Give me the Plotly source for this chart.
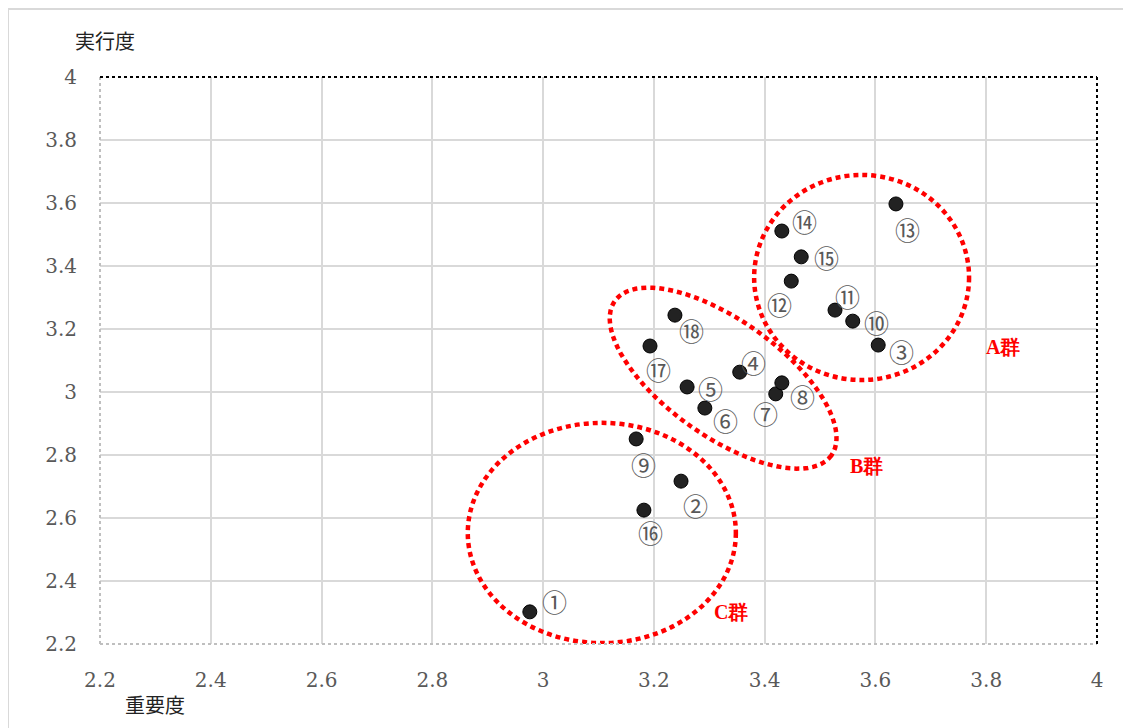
import numpy as np
import plotly.graph_objects as go

# ---- data ----
labels = ["①", "②", "③", "④", "⑤", "⑥", "⑦", "⑧", "⑨", "⑩", "⑪", "⑫", "⑬", "⑭", "⑮", "⑯", "⑰", "⑱"]
importance = [2.976, 3.249, 3.605, 3.355, 3.260, 3.292, 3.420, 3.431, 3.168, 3.559, 3.527, 3.448, 3.637, 3.431, 3.466, 3.182, 3.193, 3.238]
performance = [2.302, 2.717, 3.149, 3.063, 3.016, 2.949, 2.994, 3.029, 2.851, 3.225, 3.260, 3.352, 3.597, 3.511, 3.429, 2.625, 3.146, 3.244]
# label offsets in pixels (dx right, dy down)
label_dx = [25, 14, 23, 14, 23, 21, -10, 21, 7, 24, 12, -12, 12, 23, 25, 7, 8, 17]
label_dy = [-11, 24, 6, -10, 1, 12, 19, 13, 25, 1, -14, 23, 25, -10, 0, 22, 23, 15]

group_names = ["A群", "B群", "C群"]
group_x = [3.830, 3.583, 3.339]
group_y = [3.143, 2.765, 2.302]

xticks = [2.2, 2.4, 2.6, 2.8, 3.0, 3.2, 3.4, 3.6, 3.8, 4.0]
xtick_text = ["2.2", "2.4", "2.6", "2.8", "3", "3.2", "3.4", "3.6", "3.8", "4"]
yticks = xticks
ytick_text = xtick_text

W, H = 1131, 728
L, R, T, B = 92, 42, 69, 92
X0, X1, Y0, Y1 = 2.2, 4.0, 2.2, 4.0
PW, PH = W - L - R, H - T - B
sx = PW / (X1 - X0)
sy = PH / (Y1 - Y0)

SERIF = "DejaVu Serif"
BOLD_SERIF = "Liberation Serif, DejaVu Serif, serif"
CJK = "Noto Sans CJK JP"
GREY = "#595959"

fig = go.Figure()
fig.add_trace(go.Scatter(
    x=importance, y=performance, mode="markers",
    marker=dict(size=14, color="#222222", line=dict(color="#000000", width=1)),
    hoverinfo="skip", showlegend=False))

annotations = []
for lab, x, y, dx, dy in zip(labels, importance, performance, label_dx, label_dy):
    annotations.append(dict(x=x, y=y, text=lab, showarrow=False, xshift=dx, yshift=-dy,
                            font=dict(family=CJK, size=25, color=GREY)))
for g, x, y in zip(group_names, group_x, group_y):
    annotations.append(dict(x=x, y=y, text="<b>" + g + "</b>", showarrow=False,
                            font=dict(family=BOLD_SERIF, size=20, color="#ff0000")))
annotations.append(dict(xref="paper", yref="paper", x=0.005, y=1.0, yshift=37, xanchor="center",
                        yanchor="middle", text="実行度", showarrow=False,
                        font=dict(family=CJK, size=20, color="#222222")))
annotations.append(dict(xref="paper", yref="paper", x=0.055, y=0.0, yshift=-60, xanchor="center",
                        yanchor="middle", text="重要度", showarrow=False,
                        font=dict(family=CJK, size=20, color="#222222")))

red_line = dict(color="#ff0000", width=4.5, dash="5px,4px")
shapes = []
# outer chart border
shapes.append(dict(type="rect", xref="paper", yref="paper",
                   x0=(0 - L) / PW, x1=(W + 5 - L) / PW,
                   y0=(PH + T - (H + 5)) / PH, y1=(PH + T - 1) / PH,
                   line=dict(color="#d9d9d9", width=2), layer="below"))
# ellipse A and C (axis aligned)
shapes.append(dict(type="circle", xref="x", yref="y", x0=3.381, x1=3.769, y0=3.038, y1=3.689, line=red_line))
shapes.append(dict(type="circle", xref="x", yref="y", x0=2.864, x1=3.348, y0=2.203, y1=2.902, line=red_line))
# ellipse B (rotated in screen space)
cx, cy = 3.325, 3.044
a_px, b_px, ang = 133, 58, np.deg2rad(35.5)
t = np.linspace(0, 2 * np.pi, 90)
px = a_px * np.cos(t) * np.cos(ang) - b_px * np.sin(t) * np.sin(ang)
py = a_px * np.cos(t) * np.sin(ang) + b_px * np.sin(t) * np.cos(ang)
ex = cx + px / sx
ey = cy - py / sy
path = "M " + " L ".join(f"{a:.4f},{b:.4f}" for a, b in zip(ex, ey)) + " Z"
shapes.append(dict(type="path", xref="x", yref="y", path=path, line=red_line))
# plot area borders
shapes.append(dict(type="line", xref="paper", yref="paper", x0=0, x1=0, y0=0, y1=1,
                   line=dict(color="#bfbfbf", width=2, dash="dot")))
shapes.append(dict(type="line", xref="paper", yref="paper", x0=0, x1=1, y0=0, y1=0,
                   line=dict(color="#bfbfbf", width=2, dash="dot")))
shapes.append(dict(type="line", xref="paper", yref="paper", x0=0, x1=1, y0=1, y1=1,
                   line=dict(color="#000000", width=2, dash="dot")))
shapes.append(dict(type="line", xref="paper", yref="paper", x0=1, x1=1, y0=0, y1=1,
                   line=dict(color="#000000", width=2, dash="dot")))

fig.update_layout(
    width=W, height=H,
    margin=dict(l=L, r=R, t=T, b=B),
    paper_bgcolor="white", plot_bgcolor="white",
    font=dict(family=SERIF),
    shapes=shapes, annotations=annotations,
    xaxis=dict(range=[X0, X1], tickvals=xticks, ticktext=xtick_text, showgrid=True,
               gridcolor="#d9d9d9", gridwidth=1.5, zeroline=False, showline=False,
               ticklabelstandoff=22, tickfont=dict(family=SERIF, size=20, color=GREY)),
    yaxis=dict(range=[Y0, Y1], tickvals=yticks, ticktext=ytick_text, showgrid=True,
               gridcolor="#d9d9d9", gridwidth=1.5, zeroline=False, showline=False,
               ticklabelstandoff=22, tickfont=dict(family=SERIF, size=20, color=GREY)),
)
fig.write_html("out.html")
